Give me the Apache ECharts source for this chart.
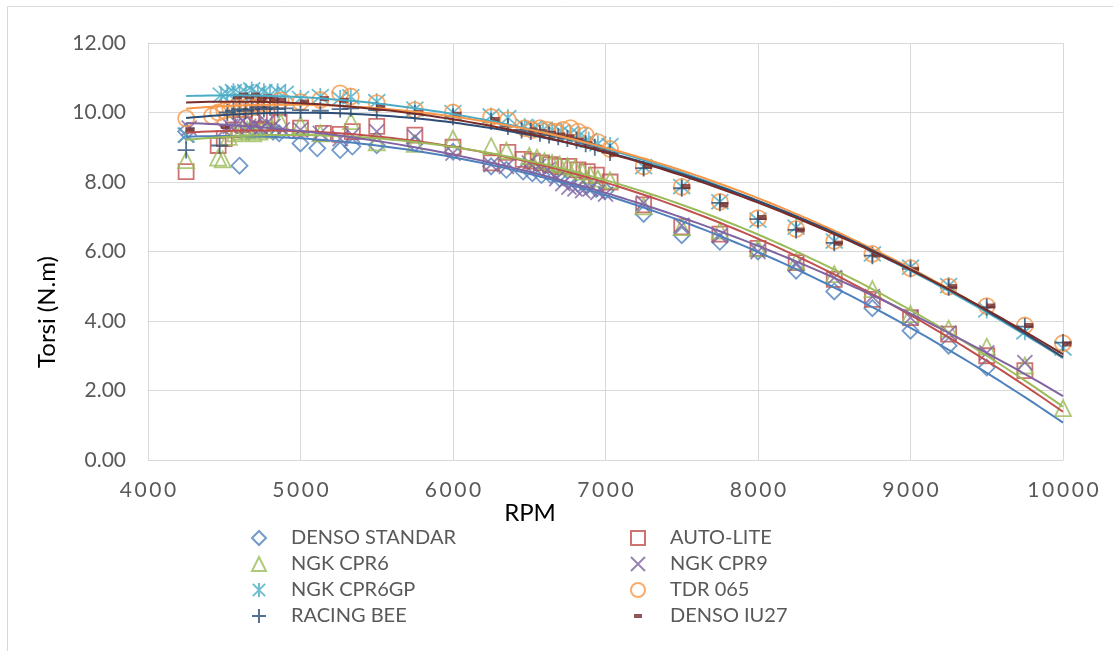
<!DOCTYPE html>
<html>
<head>
<meta charset="utf-8">
<title>Torsi vs RPM</title>
<script src="https://cdn.jsdelivr.net/npm/echarts@6/dist/echarts.min.js"></script>
<style>
  html, body { margin: 0; padding: 0; background: #fff; }
  #chart { width: 1113px; height: 651px; }
</style>
</head>
<body>
<div id="chart"></div>
<script>
// data (RPM vs Torsi N.m)
const densoStandarRpm = [4250, 4600, 4660, 4700, 4740, 4780, 4820, 4860, 5000, 5110, 5260, 5340, 5500, 5750, 6000, 6250, 6350, 6460, 6520, 6580, 6640, 6700, 6760, 6820, 6880, 6940, 7000, 7250, 7500, 7750, 8000, 8250, 8500, 8750, 9000, 9250, 9500];
const densoStandarTorque = [9.45, 8.47, 9.45, 9.5, 9.55, 9.5, 9.45, 9.4, 9.11, 8.97, 8.92, 9.02, 9.06, 9.11, 8.87, 8.45, 8.35, 8.3, 8.25, 8.2, 8.2, 8.1, 8.05, 7.95, 7.9, 7.8, 7.75, 7.08, 6.47, 6.28, 6.0, 5.45, 4.85, 4.37, 3.72, 3.29, 2.66];

const autoLiteRpm = [4250, 4460, 4500, 4560, 4620, 4680, 4730, 4780, 4860, 5000, 5150, 5260, 5340, 5500, 5750, 6000, 6250, 6360, 6460, 6520, 6580, 6640, 6700, 6760, 6820, 6880, 6940, 7030, 7250, 7500, 7750, 8000, 8250, 8500, 8750, 9000, 9250, 9500, 9750];
const autoLiteTorque = [8.3, 9.05, 9.25, 9.5, 9.65, 9.85, 9.95, 9.9, 9.72, 9.55, 9.4, 9.37, 9.45, 9.6, 9.35, 9.0, 8.55, 8.85, 8.65, 8.6, 8.55, 8.5, 8.45, 8.45, 8.35, 8.3, 8.2, 8.0, 7.34, 6.71, 6.5, 6.09, 5.68, 5.2, 4.62, 4.1, 3.62, 3.0, 2.57];

const ngkCpr6Rpm = [4250, 4460, 4490, 4530, 4570, 4610, 4650, 4690, 4730, 4770, 4810, 4870, 5000, 5130, 5330, 5500, 5750, 6000, 6250, 6350, 6500, 6550, 6600, 6650, 6700, 6750, 6800, 6850, 6900, 6950, 7030, 7250, 7500, 7750, 8000, 8250, 8500, 8750, 9000, 9250, 9500, 9750, 10000];
const ngkCpr6Torque = [8.63, 8.7, 8.65, 9.3, 9.4, 9.45, 9.5, 9.4, 9.45, 9.5, 9.55, 9.72, 9.64, 9.4, 9.75, 9.14, 9.1, 9.25, 9.03, 8.9, 8.75, 8.7, 8.6, 8.55, 8.5, 8.45, 8.4, 8.3, 8.2, 8.1, 8.05, 7.3, 6.7, 6.6, 6.1, 5.72, 5.35, 4.92, 4.2, 3.78, 3.26, 2.72, 1.49];

const ngkCpr9Rpm = [4250, 4270, 4500, 4540, 4580, 4620, 4660, 4700, 4740, 4780, 4820, 4880, 5000, 5130, 5260, 5340, 5500, 5750, 6000, 6250, 6350, 6500, 6560, 6620, 6680, 6720, 6760, 6800, 6850, 6900, 6950, 7000, 7250, 7500, 7750, 8000, 8250, 8500, 8750, 9000, 9250, 9500, 9750];
const ngkCpr9Torque = [9.35, 9.55, 9.5, 9.6, 9.7, 9.75, 9.6, 9.65, 9.55, 9.7, 9.6, 9.5, 9.5, 9.4, 9.25, 9.35, 9.45, 9.3, 8.83, 8.5, 8.45, 8.55, 8.45, 8.35, 8.1, 7.95, 7.85, 7.8, 7.75, 7.8, 7.7, 7.65, 7.4, 6.75, 6.45, 6.0, 5.63, 5.25, 4.7, 4.1, 3.65, 3.08, 2.8];

const ngkCpr6gpRpm = [4250, 4480, 4520, 4560, 4600, 4640, 4680, 4720, 4760, 4800, 4850, 4900, 5000, 5130, 5260, 5330, 5500, 5750, 6000, 6250, 6360, 6470, 6530, 6590, 6650, 6710, 6770, 6830, 6890, 6950, 7030, 7250, 7500, 7750, 8000, 8250, 8500, 8750, 9000, 9250, 9500, 9750, 10000];
const ngkCpr6gpTorque = [9.35, 10.5, 10.55, 10.6, 10.55, 10.6, 10.65, 10.55, 10.6, 10.5, 10.6, 10.55, 10.4, 10.46, 10.4, 10.45, 10.31, 10.1, 10.0, 9.9, 9.85, 9.6, 9.55, 9.5, 9.5, 9.45, 9.4, 9.35, 9.2, 9.1, 9.05, 8.44, 7.87, 7.43, 6.9, 6.7, 6.3, 5.93, 5.55, 5.02, 4.32, 3.69, 3.22];

const tdr065Rpm = [4250, 4420, 4460, 4500, 4540, 4580, 4620, 4660, 4700, 4740, 4780, 4870, 5000, 5130, 5260, 5330, 5500, 5750, 6000, 6250, 6360, 6470, 6520, 6570, 6620, 6670, 6720, 6770, 6820, 6870, 6950, 7030, 7250, 7500, 7750, 8000, 8250, 8500, 8750, 9000, 9250, 9500, 9750, 10000];
const tdr065Torque = [9.83, 9.9, 10.0, 10.05, 10.1, 10.15, 10.1, 10.2, 10.15, 10.2, 10.25, 10.35, 10.3, 10.36, 10.55, 10.46, 10.27, 10.07, 10.0, 9.87, 9.78, 9.55, 9.5, 9.55, 9.5, 9.45, 9.5, 9.55, 9.45, 9.35, 9.15, 8.95, 8.45, 7.86, 7.43, 6.96, 6.65, 6.3, 5.93, 5.52, 4.99, 4.43, 3.87, 3.36];

const racingBeeRpm = [4250, 4470, 4520, 4560, 4600, 4640, 4680, 4720, 4760, 4800, 4850, 4900, 5000, 5130, 5260, 5330, 5500, 5750, 6000, 6250, 6360, 6450, 6510, 6570, 6630, 6690, 6750, 6810, 6870, 6930, 7030, 7250, 7500, 7750, 8000, 8250, 8500, 8750, 9000, 9250, 9500, 9750, 10000];
const racingBeeTorque = [8.92, 9.05, 10.0, 10.05, 10.1, 10.05, 10.1, 10.15, 10.1, 10.15, 10.1, 10.12, 10.07, 10.05, 10.1, 10.12, 10.07, 9.97, 9.88, 9.74, 9.6, 9.5, 9.45, 9.4, 9.35, 9.3, 9.25, 9.2, 9.1, 9.0, 8.85, 8.4, 7.82, 7.4, 6.93, 6.62, 6.25, 5.88, 5.5, 4.97, 4.4, 3.84, 3.38];

const densoIu27Rpm = [4250, 4480, 4560, 4600, 4640, 4680, 4720, 4760, 4800, 4850, 5000, 5130, 5260, 5500, 5750, 6000, 6250, 6500, 6560, 6620, 6680, 6740, 6800, 6860, 6920, 6980, 7030, 7250, 7500, 7750, 8000, 8250, 8500, 8750, 9000, 9250, 9500, 9750, 10000];
const densoIu27Torque = [9.5, 9.6, 10.45, 10.5, 10.45, 10.5, 10.4, 10.45, 10.4, 10.35, 10.3, 10.4, 10.35, 10.2, 10.0, 9.95, 9.8, 9.5, 9.45, 9.4, 9.35, 9.3, 9.2, 9.1, 9.0, 8.9, 8.8, 8.46, 7.87, 7.34, 6.98, 6.62, 6.24, 5.9, 5.49, 4.99, 4.43, 3.87, 3.34];

const yTicks = [0, 2, 4, 6, 8, 10, 12];
const xTicks = [4000, 5000, 6000, 7000, 8000, 9000, 10000];

// marker shapes (stroke only)
const X_PATH = 'path://M0,0L16,16M16,0L0,16';
const PLUS_PATH = 'path://M8,0L8,16M0,8L16,8';
const STAR_PATH = 'path://M1,1L15,15M15,1L1,15M8,0L8,16';
const DASH_ICON = 'path://M0,0M14,14M3,5L11,5L11,9L3,9Z';

const seriesDefs = [
  { name: 'DENSO STANDAR', rpm: densoStandarRpm, torque: densoStandarTorque, color: '#4F81BD', symbol: 'diamond', size: 16 },
  { name: 'AUTO-LITE', rpm: autoLiteRpm, torque: autoLiteTorque, color: '#C0504D', symbol: 'rect', size: 15 },
  { name: 'NGK CPR6', rpm: ngkCpr6Rpm, torque: ngkCpr6Torque, color: '#9BBB59', symbol: 'triangle', size: 16 },
  { name: 'NGK CPR9', rpm: ngkCpr9Rpm, torque: ngkCpr9Torque, color: '#8064A2', symbol: X_PATH, size: 15 },
  { name: 'NGK CPR6GP', rpm: ngkCpr6gpRpm, torque: ngkCpr6gpTorque, color: '#4BACC6', symbol: STAR_PATH, size: 17 },
  { name: 'TDR 065', rpm: tdr065Rpm, torque: tdr065Torque, color: '#F79646', symbol: 'circle', size: 16 },
  { name: 'RACING BEE', rpm: racingBeeRpm, torque: racingBeeTorque, color: '#2C4D75', symbol: PLUS_PATH, size: 17 },
  { name: 'DENSO IU27', rpm: densoIu27Rpm, torque: densoIu27Torque, color: '#772C2A', symbol: 'rect', size: [9, 5], filled: true, offset: [4, 0] }
];

// least squares polynomial trendline (like excel's "polynomial" trendline)
const TREND_ORDER = 2;
function polyfit(xs, ys, order) {
  const n = order + 1;
  const A = [];
  for (let i = 0; i < n; i++) A.push(new Array(n + 1).fill(0));
  xs.forEach((x, k) => {
    const t = (x - 7000) / 1000;
    for (let i = 0; i < n; i++) {
      for (let j = 0; j < n; j++) A[i][j] += Math.pow(t, i + j);
      A[i][n] += Math.pow(t, i) * ys[k];
    }
  });
  for (let i = 0; i < n; i++) {
    let p = i;
    for (let r = i + 1; r < n; r++) if (Math.abs(A[r][i]) > Math.abs(A[p][i])) p = r;
    const tmp = A[i]; A[i] = A[p]; A[p] = tmp;
    for (let r = 0; r < n; r++) {
      if (r === i) continue;
      const f = A[r][i] / A[i][i];
      for (let c = i; c <= n; c++) A[r][c] -= f * A[i][c];
    }
  }
  return A.map((row, i) => row[n] / row[i]);
}
function trendPoints(rpm, torque) {
  const coef = polyfit(rpm, torque, TREND_ORDER);
  const start = Math.min.apply(null, rpm);
  const pts = [];
  for (let x = start; x <= 10000; x += 50) {
    const t = (x - 7000) / 1000;
    let y = 0;
    coef.forEach((c, i) => { y += c * Math.pow(t, i); });
    pts.push([x, y]);
  }
  return pts;
}

const FONT = 'Lato';
const chart = echarts.init(document.getElementById('chart'));

const series = [];
seriesDefs.forEach((s, idx) => {
  series.push({
    name: s.name,
    type: 'scatter',
    data: s.rpm.map((x, i) => [x, s.torque[i]]),
    symbol: s.symbol,
    symbolSize: s.size,
    symbolOffset: s.offset || [0, 0],
    z: 2 + idx * 0.01,
    itemStyle: s.filled
      ? { color: s.color }
      : { color: 'rgba(0,0,0,0)', borderColor: s.color, borderWidth: 1.8 },
    emphasis: { disabled: true }
  });
});
seriesDefs.forEach((s) => {
  series.push({
    name: s.name + ' trend',
    type: 'line',
    data: trendPoints(s.rpm, s.torque),
    showSymbol: false,
    symbol: 'none',
    z: 3,
    lineStyle: { color: s.color, width: 2 },
    emphasis: { disabled: true }
  });
});

const legendBase = {
  orient: 'vertical',
  itemWidth: 14,
  itemHeight: 14,
  itemGap: 6,
  selectedMode: false,
  textStyle: { fontFamily: FONT, fontSize: 20, color: '#595959', padding: [0, 0, 0, 20] }
};

const option = {
  animation: false,
  backgroundColor: '#fff',
  grid: { left: 148, right: 50, top: 43, bottom: 191, containLabel: false },
  xAxis: {
    type: 'value',
    min: xTicks[0],
    max: xTicks[xTicks.length - 1],
    interval: 1000,
    axisLine: { show: true, lineStyle: { color: '#D9D9D9', width: 1 } },
    axisTick: { show: false },
    splitLine: { show: true, lineStyle: { color: '#D9D9D9', width: 1 } },
    axisLabel: {
      margin: 20,
      fontFamily: FONT,
      fontSize: 21,
      color: '#595959',
      formatter: (v) => String(v).split('').join('\u2009')
    }
  },
  yAxis: {
    type: 'value',
    min: yTicks[0],
    max: yTicks[yTicks.length - 1],
    interval: 2,
    axisLine: { show: true, lineStyle: { color: '#D9D9D9', width: 1 } },
    axisTick: { show: false },
    splitLine: { show: true, lineStyle: { color: '#D9D9D9', width: 1 } },
    axisLabel: {
      margin: 22,
      fontFamily: FONT,
      fontSize: 21,
      color: '#595959',
      formatter: (v) => v.toFixed(2)
    }
  },
  legend: [
    Object.assign({}, legendBase, {
      left: 246, top: 523,
      data: ['DENSO STANDAR', 'NGK CPR6', 'NGK CPR6GP', 'RACING BEE']
    }),
    Object.assign({}, legendBase, {
      left: 625, top: 523,
      data: ['AUTO-LITE', 'NGK CPR9', 'TDR 065', { name: 'DENSO IU27', icon: DASH_ICON }]
    })
  ],
  graphic: [
    {
      type: 'rect',
      shape: { x: 7.5, y: 6.5, width: 1300, height: 800 },
      style: { fill: 'none', stroke: '#D9D9D9', lineWidth: 1 },
      silent: true, z: -10
    },
    {
      type: 'text',
      x: 47, y: 312,
      rotation: Math.PI / 2,
      style: { text: 'Torsi (N.m)', fontFamily: FONT, fontSize: 24, fill: '#000', align: 'center', verticalAlign: 'middle' }
    },
    {
      type: 'text',
      x: 530, y: 513,
      style: { text: 'RPM', fontFamily: FONT, fontSize: 24, fill: '#000', align: 'center', verticalAlign: 'middle' }
    }
  ],
  series: series
};

chart.setOption(option);
</script>
</body>
</html>
